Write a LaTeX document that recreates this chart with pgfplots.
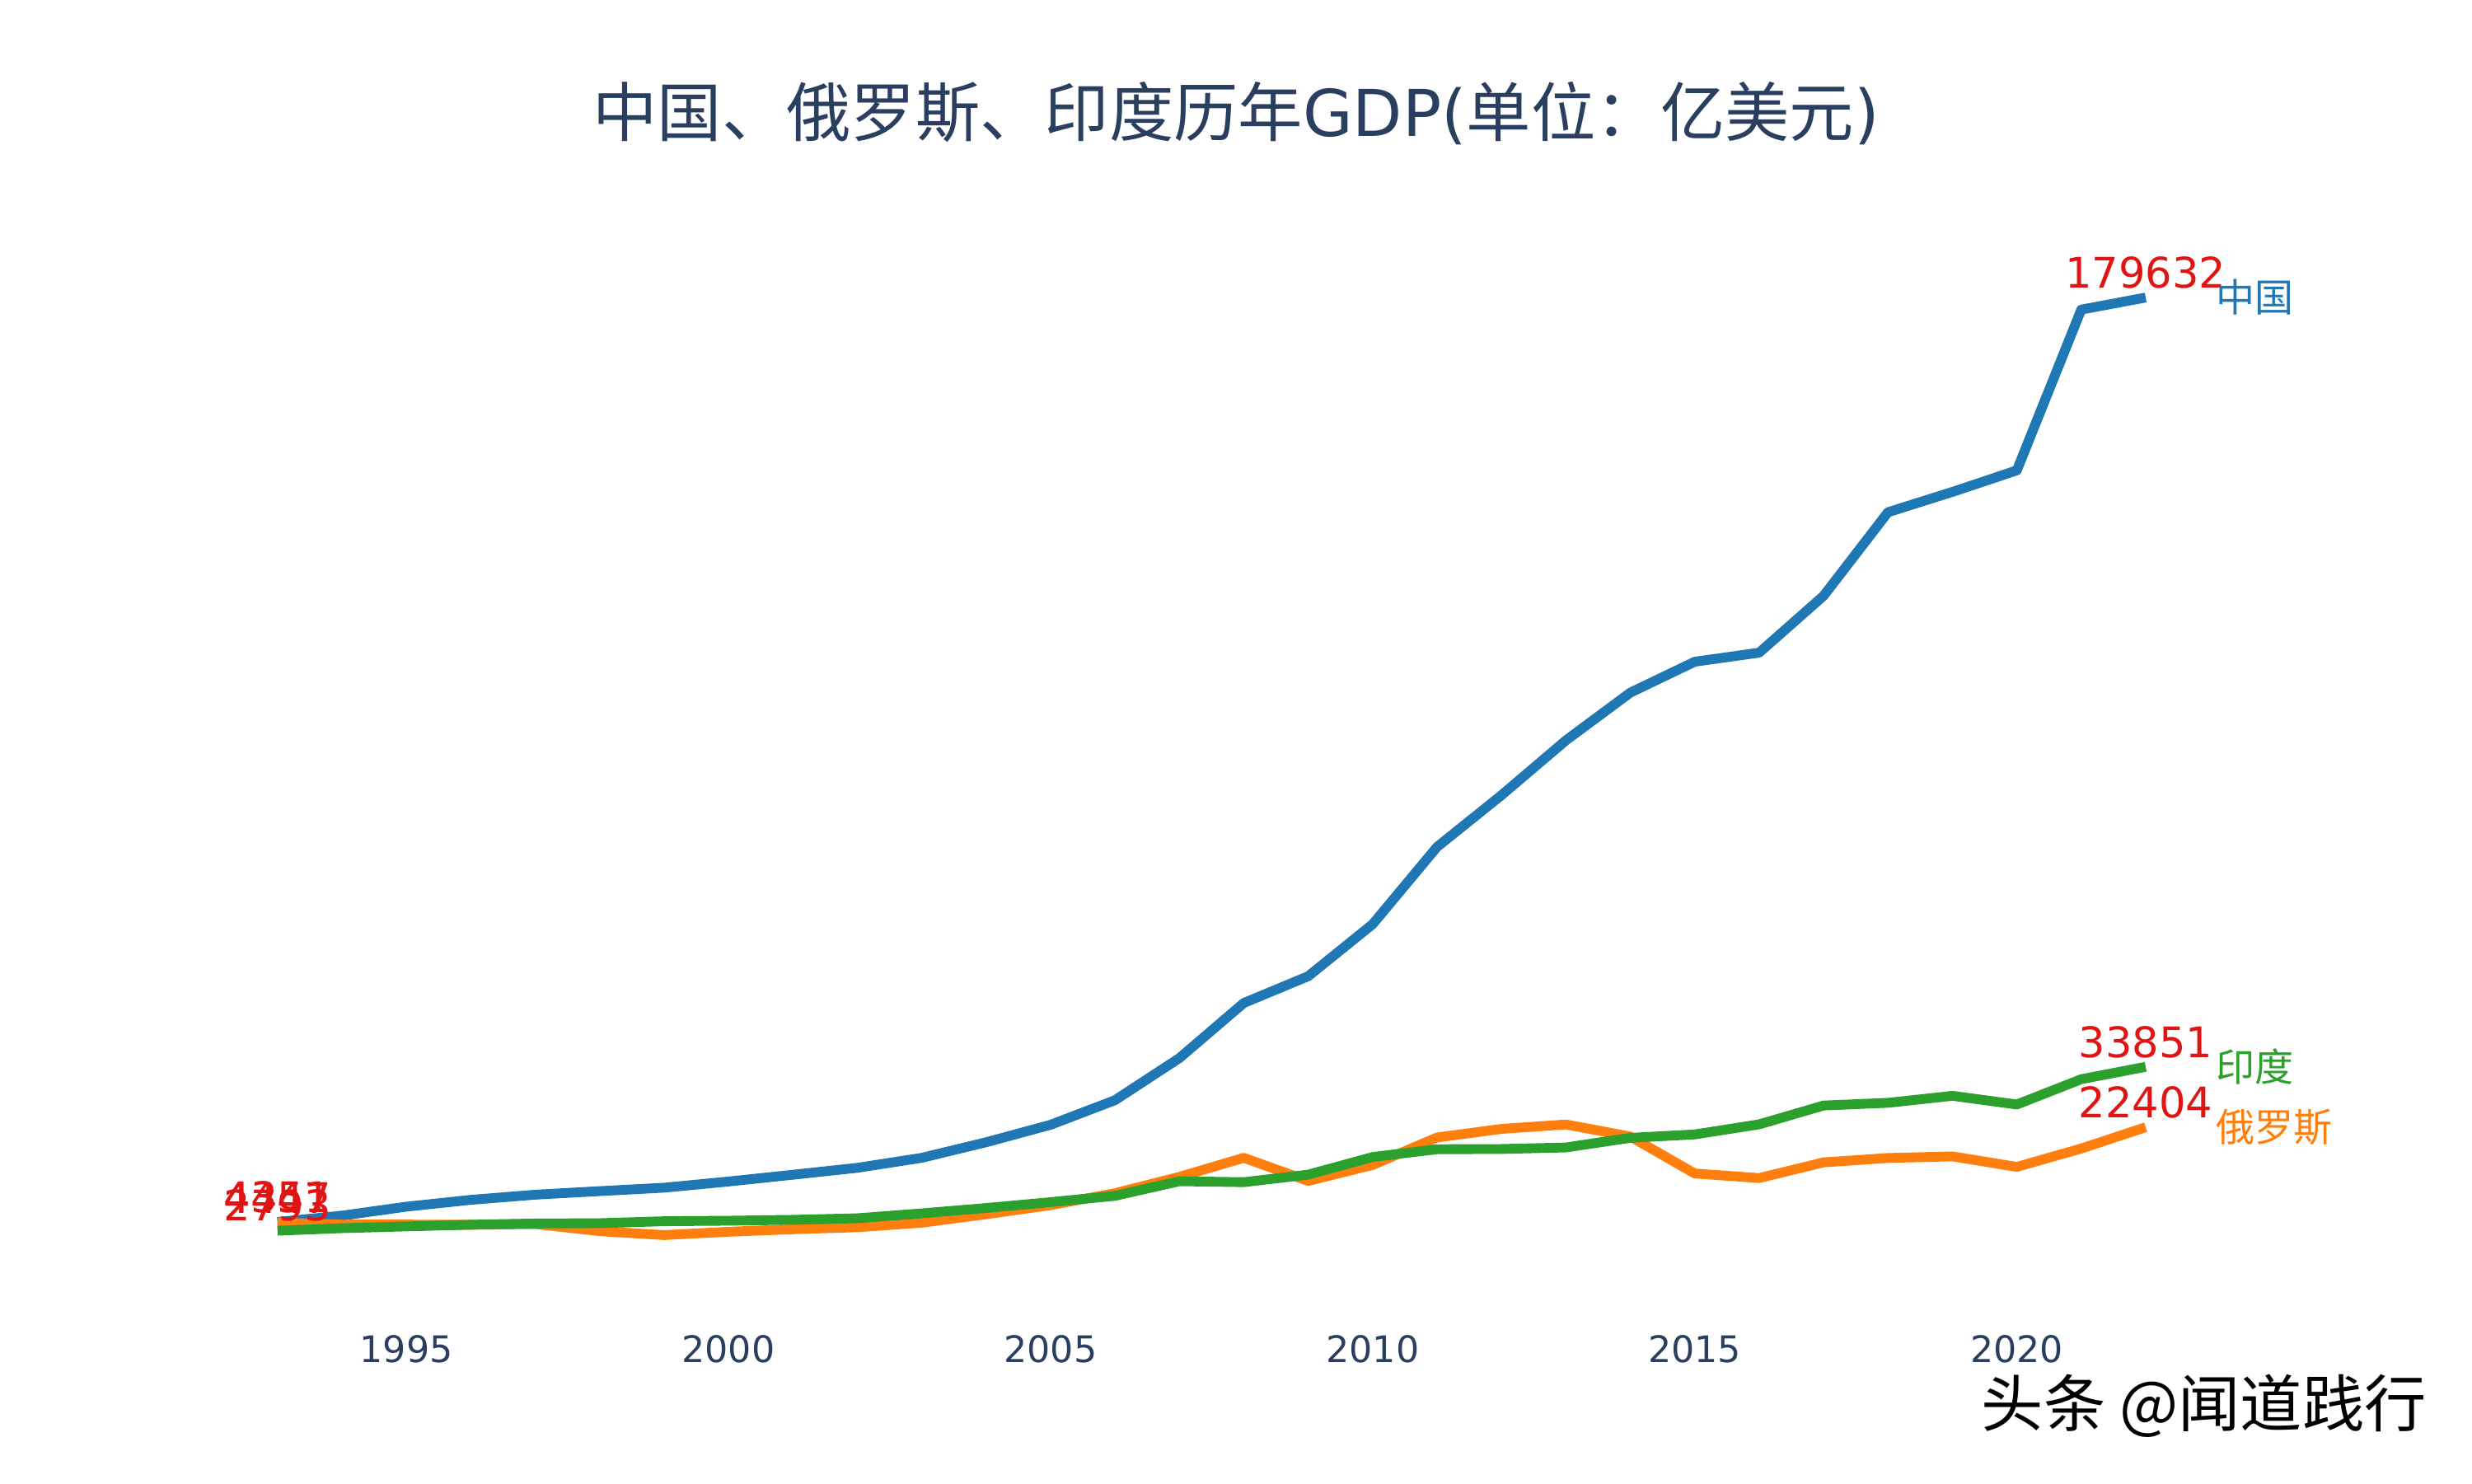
\documentclass[border=0pt]{standalone}
\usepackage{pgfplots}
\pgfplotsset{compat=1.18}
\usepackage{fontspec}
\setmainfont{DejaVu Sans}
\newfontfamily\cjk{Noto Sans CJK SC}
\definecolor{cnc}{HTML}{1F77B4}
\definecolor{ruc}{HTML}{FF7F0E}
\definecolor{inc}{HTML}{2CA02C}
\definecolor{tickc}{HTML}{2A3F5F}
\definecolor{lab}{RGB}{225,20,20}
\tikzset{
  numlab/.style={anchor=south, inner sep=0pt, yshift=0.5mm, text=lab, font=\fontsize{7.6}{9}\selectfont},
  namelab/.style={anchor=west, inner sep=0pt, xshift=4.4mm, font=\cjk\fontsize{7}{8}\selectfont},
}
\begin{document}
\begin{tikzpicture}
\path[use as bounding box, fill=white] (0,0) rectangle (156.8mm,94.1mm);
\node[font=\fontsize{11.65}{14}\selectfont, text=tickc] at (78.4mm,86.9mm) {{\cjk 中国、俄罗斯、印度历年}GDP({\cjk 单位：亿美元})};
\begin{axis}[
  at={(17.6mm,15.1mm)}, anchor=south west,
  scale only axis, width=118.5mm, height=60.25mm,
  xmin=1993, xmax=2022, ymin=0, ymax=180000,
  clip=false,
  axis line style={draw=none},
  ytick=\empty,
  xtick={1995,2000,2005,2010,2015,2020},
  major tick length=0pt,
  tick style={draw=none},
  /pgf/number format/assume math mode=true,
  /pgf/number format/1000 sep={},
  x tick label style={font=\fontsize{6.6}{8}\selectfont, text=tickc, anchor=center, yshift=-6.6mm},
  every axis plot/.append style={line width=0.62mm, line join=round},
]
\addplot[cnc] coordinates {
(1993,4447) (1994,5643) (1995,7345) (1996,8638) (1997,9615) (1998,10290) (1999,10940) (2000,12113) (2001,13394) (2002,14706) (2003,16600) (2004,19553) (2005,22860) (2006,27521) (2007,35500) (2008,45944) (2009,51017) (2010,60872) (2011,75515) (2012,85322) (2013,95704) (2014,104756) (2015,110616) (2016,112333) (2017,123104) (2018,138948) (2019,142800) (2020,146877) (2021,177341) (2022,179632)
};
\addplot[ruc] coordinates {
(1993,4351) (1994,3950) (1995,3955) (1996,3918) (1997,4049) (1998,2710) (1999,1959) (2000,2597) (2001,3066) (2002,3451) (2003,4303) (2004,5910) (2005,7640) (2006,9899) (2007,12997) (2008,16608) (2009,12226) (2010,15249) (2011,20459) (2012,22083) (2013,22925) (2014,20636) (2015,13635) (2016,12768) (2017,15741) (2018,16572) (2019,16873) (2020,14887) (2021,18366) (2022,22404)
};
\addplot[inc] coordinates {
(1993,2793) (1994,3271) (1995,3603) (1996,3928) (1997,4155) (1998,4213) (1999,4587) (2000,4684) (2001,4854) (2002,5149) (2003,6076) (2004,7091) (2005,8203) (2006,9402) (2007,12167) (2008,11990) (2009,13415) (2010,16756) (2011,18230) (2012,18277) (2013,18567) (2014,20391) (2015,21036) (2016,22948) (2017,26515) (2018,27028) (2019,28355) (2020,26710) (2021,31503) (2022,33851)
};
\node[numlab] at (axis cs:1993,4447) {4447};
\node[numlab] at (axis cs:1993,4351) {4351};
\node[numlab] at (axis cs:1993,2793) {2793};
\node[numlab] at (axis cs:2022,179632) {179632};
\node[numlab] at (axis cs:2022,22404) {22404};
\node[numlab] at (axis cs:2022,33851) {33851};
\node[namelab, text=cnc] at (axis cs:2022,179632) {中国};
\node[namelab, text=ruc] at (axis cs:2022,22404) {俄罗斯};
\node[namelab, text=inc] at (axis cs:2022,33851) {印度};
\end{axis}
\node[font=\cjk\fontsize{11.2}{13}\selectfont, text=black] at (139.8mm,4.9mm) {头条 @闻道践行};
\end{tikzpicture}
\end{document}
